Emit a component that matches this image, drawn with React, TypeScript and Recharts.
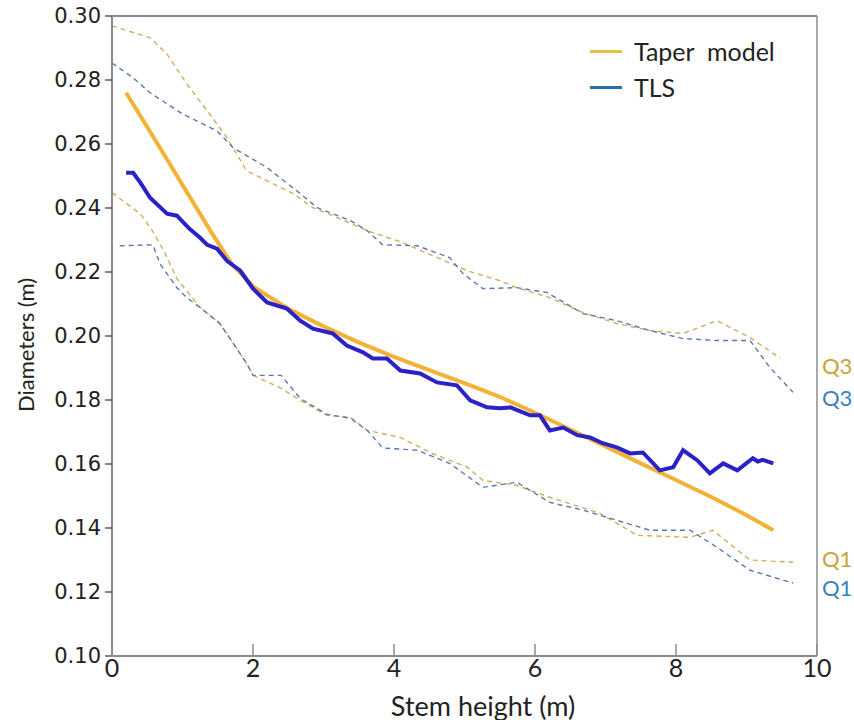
import { LineChart, Line, XAxis, YAxis, ReferenceLine } from "recharts";

// stem heights (m) and diameters (m)
const taperHeight = [0.2, 0.6, 1.0, 1.4, 1.7, 2.0, 2.5, 3.0, 3.5, 4.0, 4.5, 5.0, 5.5, 6.0, 6.5, 7.0, 7.5, 8.0, 8.5, 9.0, 9.38];
const taperDiam = [0.276, 0.2617, 0.2472, 0.2327, 0.2225, 0.2155, 0.2085, 0.203, 0.198, 0.1935, 0.1893, 0.1853, 0.181, 0.176, 0.1708, 0.1655, 0.1602, 0.155, 0.1497, 0.144, 0.1393];

const tlsHeight = [0.2, 0.3, 0.4, 0.54, 0.78, 0.92, 1.1, 1.25, 1.35, 1.49, 1.63, 1.82, 2.0, 2.2, 2.48, 2.67, 2.85, 3.13, 3.33, 3.56, 3.7, 3.9, 4.09, 4.37, 4.61, 4.89, 5.08, 5.32, 5.5, 5.65, 5.93, 6.07, 6.21, 6.4, 6.6, 6.78, 6.96, 7.16, 7.35, 7.53, 7.77, 7.96, 8.1, 8.3, 8.48, 8.67, 8.87, 9.09, 9.16, 9.23, 9.38];
const tlsDiam = [0.251, 0.251, 0.248, 0.2432, 0.2382, 0.2376, 0.2335, 0.2307, 0.2285, 0.2273, 0.2235, 0.2204, 0.2148, 0.2105, 0.2086, 0.2048, 0.2023, 0.2008, 0.197, 0.1949, 0.193, 0.193, 0.1892, 0.1883, 0.1855, 0.1846, 0.1799, 0.1777, 0.1774, 0.1777, 0.1752, 0.1752, 0.1705, 0.1714, 0.169, 0.1683, 0.1665, 0.1652, 0.1633, 0.1636, 0.158, 0.159, 0.1643, 0.1612, 0.1571, 0.1602, 0.158, 0.1618, 0.1608, 0.1613, 0.1602];

const q3TaperHeight = [0, 0.54, 0.78, 1.06, 1.35, 1.63, 1.91, 2.2, 2.57, 2.85, 3.23, 3.62, 4.09, 4.55, 5.04, 5.5, 5.74, 6.21, 6.68, 7.16, 7.63, 8.1, 8.58, 9.05, 9.48];
const q3TaperDiam = [0.2969, 0.2932, 0.2881, 0.2788, 0.2704, 0.262, 0.2516, 0.2485, 0.2445, 0.2401, 0.2367, 0.2329, 0.2295, 0.2251, 0.2204, 0.2173, 0.2151, 0.212, 0.2073, 0.2039, 0.2017, 0.2008, 0.2048, 0.1995, 0.193];

const q3TlsHeight = [0, 0.3, 0.54, 1.0, 1.49, 1.72, 2.2, 2.67, 2.91, 3.38, 3.62, 3.84, 4.33, 4.79, 4.98, 5.26, 5.74, 6.17, 6.68, 7.16, 7.63, 8.1, 8.58, 9.05, 9.33, 9.66];
const q3TlsDiam = [0.2853, 0.2807, 0.276, 0.2694, 0.2641, 0.2588, 0.2526, 0.2445, 0.2401, 0.2361, 0.2329, 0.2285, 0.2282, 0.2245, 0.2195, 0.2148, 0.2151, 0.2136, 0.207, 0.2048, 0.2017, 0.1992, 0.1986, 0.1986, 0.1902, 0.1824];

const q1TaperHeight = [0, 0.4, 0.57, 0.75, 0.92, 1.25, 1.53, 1.72, 1.91, 2.0, 2.38, 2.67, 3.05, 3.38, 3.62, 4.09, 4.55, 5.04, 5.26, 5.74, 6.21, 6.92, 7.45, 8.2, 8.52, 9.05, 9.66];
const q1TaperDiam = [0.2448, 0.2382, 0.233, 0.226, 0.2179, 0.2089, 0.2039, 0.1977, 0.1914, 0.1877, 0.1839, 0.1799, 0.1752, 0.1746, 0.1705, 0.1683, 0.1632, 0.159, 0.1549, 0.1533, 0.1496, 0.1446, 0.1377, 0.1371, 0.1393, 0.13, 0.1293];

const q1TlsHeight = [0.11, 0.58, 0.68, 0.92, 1.06, 1.25, 1.53, 1.72, 1.91, 2.0, 2.4, 2.67, 3.05, 3.38, 3.62, 3.84, 4.33, 4.79, 5.26, 5.74, 6.21, 6.68, 7.16, 7.63, 8.2, 8.58, 9.05, 9.66];
const q1TlsDiam = [0.2282, 0.2285, 0.2226, 0.2151, 0.212, 0.2089, 0.2039, 0.1977, 0.1914, 0.1877, 0.1877, 0.1805, 0.1755, 0.1743, 0.1705, 0.165, 0.1643, 0.1602, 0.1527, 0.1543, 0.148, 0.1456, 0.1424, 0.1393, 0.1393, 0.134, 0.1268, 0.1228];

const xTicks = [0, 2, 4, 6, 8, 10];
const yTicks = [0.1, 0.12, 0.14, 0.16, 0.18, 0.2, 0.22, 0.24, 0.26, 0.28, 0.3];

const toRows = (h: number[], d: number[]) => h.map((x, i) => ({ h: x, d: d[i] }));

const AXIS = "#8c8c8c";
const CAL = "Lato, 'Open Sans', sans-serif";

function XTick(props: any) {
  const { x, y, payload } = props;
  return (
    <g>
      <line x1={x} y1={y - 12} x2={x} y2={y} stroke={AXIS} strokeWidth={1.5} />
      <text x={x} y={y + 21} textAnchor="middle" fontFamily={CAL} fontSize={25} fill="#222">
        {payload.value}
      </text>
    </g>
  );
}

export default function App() {
  return (
    <div style={{ position: "absolute", left: 0, top: 0, width: 854, height: 720, background: "#fff" }}>
      <LineChart width={854} height={720} margin={{ top: 16, right: 37, left: 0, bottom: 0 }}>
        <XAxis
          dataKey="h"
          type="number"
          domain={[0, 10]}
          ticks={xTicks}
          height={64}
          allowDuplicatedCategory={false}
          axisLine={{ stroke: AXIS, strokeWidth: 2 }}
          tickLine={false}
          tickSize={0}
          tickMargin={0}
          tick={<XTick />}
          label={{
            content: () => (
              <text x={483} y={705} textAnchor="middle" dominantBaseline="central" fontFamily={CAL} fontSize={27} fill="#222">
                Stem height (m)
              </text>
            ),
          }}
        />
        <YAxis
          dataKey="d"
          type="number"
          domain={[0.1, 0.3]}
          ticks={yTicks}
          width={112}
          axisLine={{ stroke: AXIS, strokeWidth: 2 }}
          tickLine={{ stroke: "#333", strokeWidth: 1.2 }}
          tickSize={7}
          tickMargin={4}
          tickFormatter={(v: number) => v.toFixed(2)}
          tick={{ fontFamily: "'DejaVu Sans', sans-serif", fontSize: 21, fill: "#222" }}
          label={{
            content: () => (
              <text x={25} y={345} transform="rotate(-90 25 345)" textAnchor="middle" dominantBaseline="central" fontFamily={CAL} fontSize={22} fill="#222">
                Diameters (m)
              </text>
            ),
          }}
        />
        <ReferenceLine y={0.3} stroke={AXIS} strokeWidth={2} />
        <ReferenceLine x={10} stroke={AXIS} strokeWidth={1.5} />

        <Line data={toRows(q3TaperHeight, q3TaperDiam)} dataKey="d" stroke="#cfae5a" strokeWidth={1.4} strokeDasharray="5 4" dot={false} isAnimationActive={false} />
        <Line data={toRows(q3TlsHeight, q3TlsDiam)} dataKey="d" stroke="#5c77b4" strokeWidth={1.4} strokeDasharray="5 4" dot={false} isAnimationActive={false} />
        <Line data={toRows(q1TaperHeight, q1TaperDiam)} dataKey="d" stroke="#cfae5a" strokeWidth={1.4} strokeDasharray="5 4" dot={false} isAnimationActive={false} />
        <Line data={toRows(q1TlsHeight, q1TlsDiam)} dataKey="d" stroke="#5c77b4" strokeWidth={1.4} strokeDasharray="5 4" dot={false} isAnimationActive={false} />
        <Line data={toRows(taperHeight, taperDiam)} dataKey="d" stroke="#f2b236" strokeWidth={4} dot={false} isAnimationActive={false} />
        <Line data={toRows(tlsHeight, tlsDiam)} dataKey="d" stroke="#2a22c6" strokeWidth={4} dot={false} isAnimationActive={false} />
      </LineChart>

      {/* legend */}
      <div style={{ position: "absolute", left: 590, top: 33, fontFamily: CAL, fontSize: 25, color: "#222", lineHeight: "36px" }}>
        <div style={{ display: "flex", alignItems: "center" }}>
          <span style={{ display: "inline-block", width: 32, height: 3, background: "#e9bf3e", marginRight: 12 }} />
          Taper&nbsp; model
        </div>
        <div style={{ display: "flex", alignItems: "center" }}>
          <span style={{ display: "inline-block", width: 32, height: 3, background: "#2a6ea6", marginRight: 12 }} />
          TLS
        </div>
      </div>

      {/* quartile labels */}
      <div style={{ position: "absolute", left: 822, top: 352, fontFamily: CAL, fontSize: 22, color: "#c9a33a" }}>Q3</div>
      <div style={{ position: "absolute", left: 822, top: 384, fontFamily: CAL, fontSize: 22, color: "#3b82bd" }}>Q3</div>
      <div style={{ position: "absolute", left: 822, top: 545, fontFamily: CAL, fontSize: 22, color: "#c9a33a" }}>Q1</div>
      <div style={{ position: "absolute", left: 822, top: 574, fontFamily: CAL, fontSize: 22, color: "#3b82bd" }}>Q1</div>
    </div>
  );
}
